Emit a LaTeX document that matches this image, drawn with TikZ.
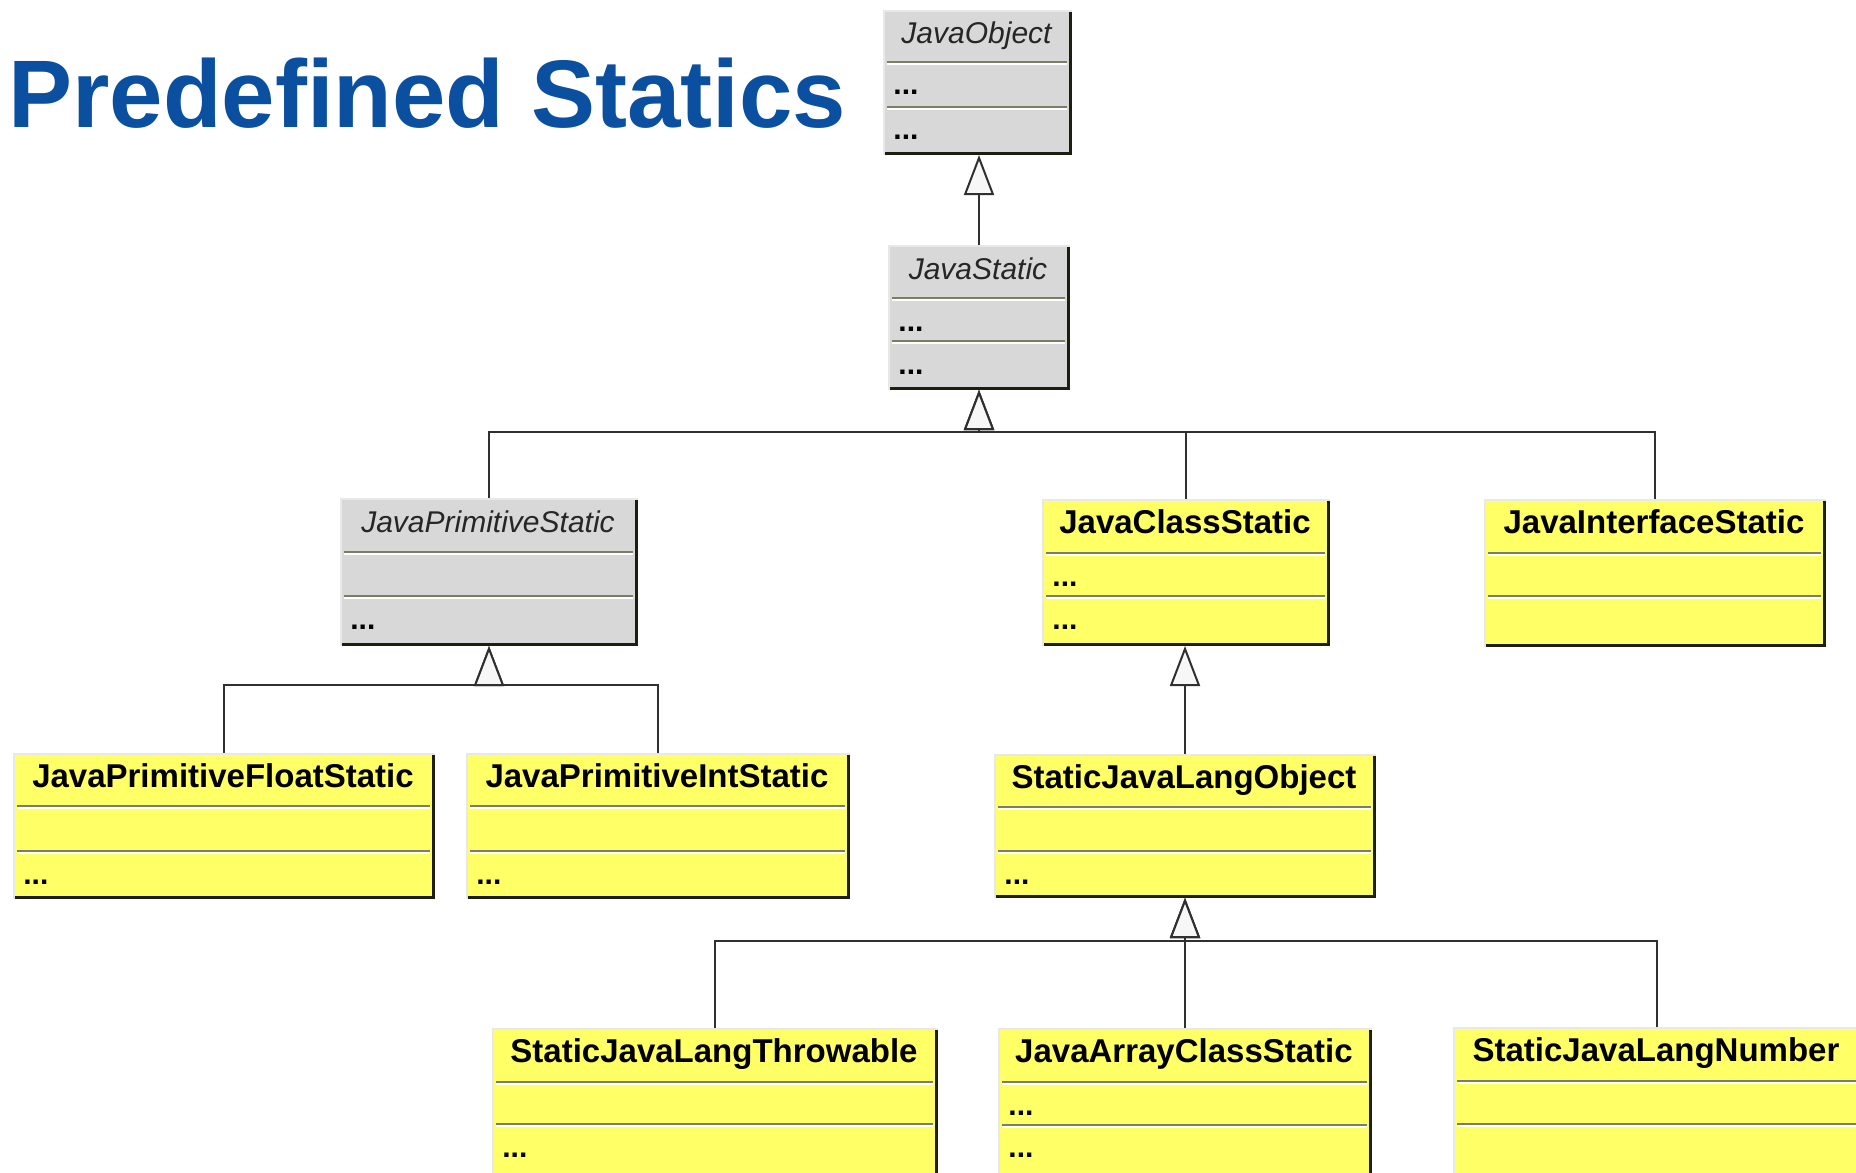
\documentclass[tikz,border=0pt]{standalone}
\usepackage{fontspec}
\setmainfont{Liberation Sans}
\usetikzlibrary{arrows.meta}
\definecolor{umlyellow}{RGB}{255,255,102}
\definecolor{umlgray}{RGB}{216,216,216}
\definecolor{titleblue}{RGB}{11,79,160}
\definecolor{edgelight}{RGB}{232,232,232}
\definecolor{edgedark}{RGB}{30,30,16}
\definecolor{sepc}{RGB}{124,124,104}
\definecolor{linegray}{RGB}{48,48,48}
\tikzset{
  box/.style={rectangle, inner sep=0pt, outer sep=0pt, anchor=north west, draw=none},
  gbox/.style={box, fill=umlgray},
  ybox/.style={box, fill=umlyellow},
  ttl/.style={anchor=base, inner sep=0pt},
  dotsn/.style={font=\bfseries\fontsize{15}{18}\selectfont, anchor=base west, inner sep=0pt},
  inh/.style={line width=1pt, draw=linegray, -{Triangle[open, length=20pt, width=15pt, fill=white!97!black]}},
}
\newcommand{\btitle}[1]{{\fontsize{16.5}{18}\selectfont\bfseries #1}}
\newcommand{\ititle}[1]{{\fontsize{15}{18}\selectfont\itshape\color{black!85} #1}}
% #1 name, #2 x1, #3 y1, #4 x2, #5 y2, #6 style, #7 sep1 y, #8 sep2 y, #9 title
\newcommand{\umlclass}[9]{%
  \pgfmathsetmacro{\bw}{(#4-#2)*0.5}%
  \pgfmathsetmacro{\bh}{(#5-#3)*0.5}%
  \node[#6, minimum width=\bw pt, minimum height=\bh pt] (#1) at (#2,#3) {};
  \draw[line width=1pt, edgelight] (#2+1,#5) -- (#2+1,#3+1) -- (#4,#3+1);
  \draw[line width=1.5pt, edgedark] (#4-1.5,#3+2) -- (#4-1.5,#5-1.5) -- (#2+2,#5-1.5);
  \draw[line width=0.8pt, sepc] (#2+4,#7) -- (#4-5,#7);
  \draw[line width=0.8pt, white] (#2+4,#7+2) -- (#4-5,#7+2);
  \draw[line width=0.8pt, sepc] (#2+4,#8) -- (#4-5,#8);
  \draw[line width=0.8pt, white] (#2+4,#8+2) -- (#4-5,#8+2);
  \node[ttl] (#1-t) at ({(#2+#4)/2-1},#3+34) {#9};
}
\newcommand{\dotsat}[3]{\node[dotsn] (#1) at (#2,#3) {...};}
\begin{document}
\begin{tikzpicture}[x=0.5pt,y=-0.5pt]
\useasboundingbox (0,0) rectangle (1856,1172);
\clip (0,0) rectangle (1856,1172);
\fill[white] (0,0) rectangle (1856,1172);

\node[anchor=base west, inner sep=0pt, text=titleblue, font=\bfseries\fontsize{48}{56}\selectfont] (title) at (8,127) {Predefined Statics};

\umlclass{jo}{883}{10}{1072}{155}{gbox}{62}{107}{\ititle{JavaObject}}
\dotsat{jo-a}{893}{95}
\dotsat{jo-b}{893}{140}

\umlclass{js}{888}{245}{1070}{390}{gbox}{298}{341}{\ititle{JavaStatic}}
\dotsat{js-a}{898}{331}
\dotsat{js-b}{898}{374}

\umlclass{jps}{340}{498}{638}{646}{gbox}{552}{596}{\ititle{JavaPrimitiveStatic}}
\dotsat{jps-b}{350}{629}

\umlclass{jcs}{1042}{499}{1330}{646}{ybox}{553}{596}{\btitle{JavaClassStatic}}
\dotsat{jcs-a}{1052}{586}
\dotsat{jcs-b}{1052}{629}

\umlclass{jis}{1484}{499}{1826}{647}{ybox}{553}{596}{\btitle{JavaInterfaceStatic}}

\umlclass{jpfs}{13}{753}{435}{899}{ybox}{806}{851}{\btitle{JavaPrimitiveFloatStatic}}
\dotsat{jpfs-b}{23}{884}

\umlclass{jpis}{466}{753}{850}{899}{ybox}{806}{851}{\btitle{JavaPrimitiveIntStatic}}
\dotsat{jpis-b}{476}{884}

\umlclass{sjlo}{994}{754}{1376}{898}{ybox}{807}{851}{\btitle{StaticJavaLangObject}}
\dotsat{sjlo-b}{1004}{884}

\umlclass{sjlt}{492}{1028}{938}{1176}{ybox}{1082}{1124}{\btitle{StaticJavaLangThrowable}}
\dotsat{sjlt-b}{502}{1157}

\umlclass{jacs}{998}{1028}{1372}{1176}{ybox}{1082}{1125}{\btitle{JavaArrayClassStatic}}
\dotsat{jacs-a}{1008}{1115}
\dotsat{jacs-b}{1008}{1157}

\umlclass{sjln}{1453}{1027}{1861}{1176}{ybox}{1081}{1124}{\btitle{StaticJavaLangNumber}}

% connectors
\coordinate (bus1) at (979,432);
\coordinate (bus2) at (489,685);
\coordinate (bus3) at (1185,941);

\draw[inh] (js.north) -- (js.north |- jo.south);

\draw[inh] (jps.north) |- (bus1) -- (js.south);
\draw[inh] (jcs.north) |- (bus1) -- (js.south);
\draw[inh] (jis.north) |- (bus1) -- (js.south);

\draw[inh] (jpfs.north) |- (bus2) -- (jps.south);
\draw[inh] (jpis.north) |- (bus2) -- (jps.south);

\draw[inh] (sjlo.north) -- (sjlo.north |- jcs.south);

\draw[inh] (sjlt.north) |- (bus3) -- (sjlo.south);
\draw[inh] (jacs.north) |- (bus3) -- (sjlo.south);
\draw[inh] (sjln.north) |- (bus3) -- (sjlo.south);
\end{tikzpicture}
\end{document}
